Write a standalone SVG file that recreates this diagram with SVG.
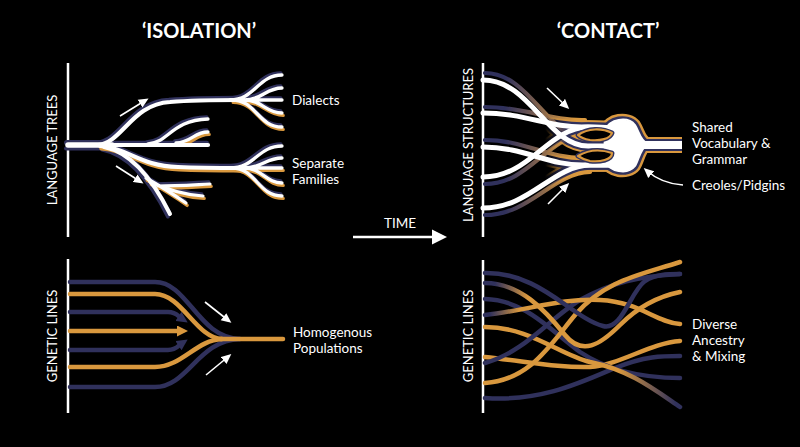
<svg xmlns="http://www.w3.org/2000/svg" width="800" height="447" viewBox="0 0 800 447">
<style>
text{font-family:Lato,"Open Sans","Liberation Sans",sans-serif;fill:#fff}
.title{font-size:20px;font-weight:bold}
.lab{font-size:13.5px}
.axlab{font-size:13px}
.axis{stroke:#fff;stroke-width:2.5;fill:none}
.ptr{stroke:#fff;stroke-width:1.6;fill:none;marker-end:url(#wh)}
.ln{fill:none;stroke-width:4.5;stroke-linecap:round}
.nv{stroke:#30315c}
.gd{stroke:#d9983e}
</style>
<defs>
<marker id="wh" markerUnits="userSpaceOnUse" markerWidth="10" markerHeight="10" refX="7" refY="5" orient="auto" viewBox="0 0 10 10"><path d="M0,0.5 L10,5 L0,9.5 z" fill="#fff"/></marker>
<marker id="anv" markerUnits="userSpaceOnUse" markerWidth="11" markerHeight="11" refX="3" refY="5.5" orient="auto" viewBox="0 0 11 11"><path d="M0,0 L11,5.5 L0,11 z" fill="#30315c"/></marker>
<marker id="agd" markerUnits="userSpaceOnUse" markerWidth="11" markerHeight="11" refX="3" refY="5.5" orient="auto" viewBox="0 0 11 11"><path d="M0,0 L11,5.5 L0,11 z" fill="#d9983e"/></marker>
<linearGradient id="shadeTR" gradientUnits="userSpaceOnUse" x1="505" y1="0" x2="575" y2="0"><stop offset="0" stop-color="#30315c"/><stop offset="1" stop-color="#d9983e"/></linearGradient>
<linearGradient id="n2g1" gradientUnits="userSpaceOnUse" x1="495" y1="0" x2="528" y2="0"><stop offset="0" stop-color="#30315c"/><stop offset="1" stop-color="#d9983e"/></linearGradient>
<linearGradient id="n2g2" gradientUnits="userSpaceOnUse" x1="490" y1="0" x2="520" y2="0"><stop offset="0" stop-color="#30315c"/><stop offset="1" stop-color="#d9983e"/></linearGradient>
<linearGradient id="g2n" gradientUnits="userSpaceOnUse" x1="618" y1="0" x2="676" y2="0"><stop offset="0" stop-color="#d9983e"/><stop offset="1" stop-color="#30315c"/></linearGradient>
<linearGradient id="fadeM" gradientUnits="userSpaceOnUse" x1="545" y1="0" x2="568" y2="0"><stop offset="0" stop-color="#000"/><stop offset="1" stop-color="#fff"/></linearGradient>
<mask id="conv" maskUnits="userSpaceOnUse" x="480" y="50" width="220" height="200"><rect x="480" y="50" width="220" height="200" fill="url(#fadeM)"/></mask>
<g id="treeAll" fill="none" stroke-linecap="round">
<path d="M68,145 H112" stroke-width="5.5"/>
<path d="M98,145 C122,143 132,104 170,102 C195,100 215,100 240,100" stroke-width="4.2"/>
<path d="M230,100 C255,100 258,75 282,75 M244,100 C262,100 266,88 282,88 M240,100 H282 M244,100 C262,100 266,113 282,113 M232,100 C256,100 258,127 282,127" stroke-width="3.3"/>
<path d="M100,145 H208" stroke-width="4.2"/>
<path d="M148,144 C168,143 172,120 208,119 M176,143 C192,142 194,132 208,132" stroke-width="3.3"/>
<path d="M100,146 C128,148 140,166 178,167 C200,168 215,168 240,168" stroke-width="4.2"/>
<path d="M230,168 C255,168 258,146 282,146 M244,168 C262,168 266,158 282,158 M240,168 H282 M244,168 C262,168 266,183 282,183 M232,168 C256,168 258,196 282,196" stroke-width="3.3"/>
<path d="M104,147 C130,152 152,178 170,214" stroke-width="4"/>
<path d="M146,178 C160,186 173,194 186,203 M150,182 C168,190 185,195 203,196 M158,186 C175,186 190,185 210,184" stroke-width="3.2"/>
</g>
<g id="treeGold" fill="none" stroke-linecap="round" stroke-width="3.3">
<path d="M232,100 C256,100 258,127 282,127 M244,100 C262,100 266,113 282,113"/>
<path d="M176,143 C192,142 194,132 208,132"/>
<path d="M100,146 C128,148 140,166 178,167 C200,168 215,168 240,168" stroke-width="4"/>
<path d="M240,168 H282 M244,168 C262,168 266,183 282,183 M232,168 C256,168 258,196 282,196"/>
<path d="M146,178 C160,186 173,194 186,203 M150,182 C168,190 185,195 203,196 M158,186 C175,186 190,185 210,184"/>
</g>
<g id="treeLL" fill="none" stroke-linecap="round" stroke-width="4">
<path d="M68,146 H112"/>
<path d="M104,147 C130,152 152,178 170,214"/>
</g>
<g id="convShapes" fill="none" stroke-linecap="round" stroke-linejoin="round">
<path d="M483,80 C530,80 548,146 588,146 L625,146"/>
<path d="M483,113 C525,113 550,128 585,127 L625,128"/>
<path d="M483,147 C525,147 548,166 585,165 L625,165"/>
<path d="M483,177 C530,177 548,128 588,127 L625,128"/>
<path d="M483,208 C530,208 552,166 590,165 L625,165"/>
</g>
<path id="blob" d="M606,130 C608,119 628,116 635,125 C639,131 640,141 648,144 C640,148 639,160 635,166 C628,175 608,172 606,161 C604,150 604,140 606,130 Z"/>
</defs>

<rect width="800" height="447" fill="#000"/>

<g id="titles">
<text class="title" x="199" y="38" text-anchor="middle">‘ISOLATION’</text>
<text class="title" x="608" y="38" text-anchor="middle">‘CONTACT’</text>
</g>

<g id="language-trees">
<line class="axis" x1="68" y1="63" x2="68" y2="237"/>
<text class="axlab" transform="translate(57,150) rotate(-90)" text-anchor="middle">LANGUAGE TREES</text>
<use href="#treeAll" stroke="#30315c" transform="translate(-1.2,-2.2)"/>
<use href="#treeLL" stroke="#30315c" transform="translate(-2,2.5)"/>
<use href="#treeGold" stroke="#d9983e" transform="translate(1.2,2.4)"/>
<use href="#treeAll" stroke="#fff"/>
<text class="lab" x="292" y="105">Dialects</text>
<text class="lab" x="292" y="168">Separate</text>
<text class="lab" x="292" y="184">Families</text>
</g>

<g id="genetic-isolation">
<line class="axis" x1="68" y1="259" x2="68" y2="413"/>
<text class="axlab" transform="translate(57,336) rotate(-90)" text-anchor="middle">GENETIC LINES</text>
<path class="ln nv" d="M70,282 H155 C188,282 198,338 240,339"/>
<path class="ln nv" d="M70,387 H155 C188,387 198,340 240,339"/>
<path class="ln gd" d="M70,294 H155 C182,294 196,338 222,339"/>
<path class="ln gd" d="M70,367 H155 C182,367 196,340 222,339"/>
<path class="ln gd" d="M220,339 H283" stroke-linecap="butt"/>
<path class="ln nv" d="M70,312 H168 C176,312 178,316 181,318" marker-end="url(#anv)"/>
<path class="ln gd" d="M70,331 H180" marker-end="url(#agd)"/>
<path class="ln nv" d="M70,350 H168 C176,350 178,346 181,344" marker-end="url(#anv)"/>
<text class="lab" x="293" y="337">Homogenous</text>
<text class="lab" x="293" y="353">Populations</text>
</g>

<g id="time">
<text class="axlab" x="400" y="228" text-anchor="middle" style="font-size:13.5px">TIME</text>
<line x1="353" y1="237" x2="436" y2="237" stroke="#fff" stroke-width="2.5"/>
<path d="M432,229.5 L447,237 L432,244.5 z" fill="#fff"/>
</g>

<g id="language-structures">
<line class="axis" x1="483" y1="63" x2="483" y2="237"/>
<text class="axlab" transform="translate(473,145) rotate(-90)" text-anchor="middle">LANGUAGE STRUCTURES</text>
<g class="ln" stroke="url(#shadeTR)" style="stroke-width:4.2">
<path d="M485,73 C530,73 548,139 588,139"/>
<path d="M485,107 C525,107 550,121 585,120"/>
<path d="M485,140 C525,140 548,159 585,158"/>
<path d="M485,184 C530,184 548,135 588,134"/>
<path d="M485,215 C530,215 552,173 590,172"/>
</g>
<g mask="url(#conv)">
<use href="#convShapes" stroke="#d9983e" stroke-width="13.5"/>
<use href="#blob" fill="#d9983e" stroke="#d9983e" stroke-width="12" stroke-linejoin="round"/>
<path d="M640,145 H682" stroke="#d9983e" stroke-width="16"/>
<use href="#convShapes" stroke="#30315c" stroke-width="9.5"/>
<use href="#blob" fill="#30315c" stroke="#30315c" stroke-width="7" stroke-linejoin="round"/>
<path d="M640,145 H682" stroke="#30315c" stroke-width="12"/>
</g>
<use href="#convShapes" stroke="#fff" stroke-width="5"/>
<use href="#blob" fill="#fff" stroke="#fff" stroke-width="2" stroke-linejoin="round"/>
<path d="M640,145 H682" stroke="#fff" stroke-width="8"/>
<path d="M578,135 C588,128 602,128 612,133 C610,139 600,141 590,140 C584,139 581,138 578,135 Z" fill="#000" stroke="#30315c" stroke-width="5" stroke-linejoin="round"/>
<path d="M578,135 C588,128 602,128 612,133 C610,139 600,141 590,140 C584,139 581,138 578,135 Z" fill="#000" stroke="#d9983e" stroke-width="2.2" stroke-linejoin="round"/>
<path d="M578,156 C588,150 600,149 612,153 C612,160 600,162 590,161 C584,160 581,158 578,156 Z" fill="#000" stroke="#30315c" stroke-width="5" stroke-linejoin="round"/>
<path d="M578,156 C588,150 600,149 612,153 C612,160 600,162 590,161 C584,160 581,158 578,156 Z" fill="#000" stroke="#d9983e" stroke-width="2.2" stroke-linejoin="round"/>
<text class="lab" x="692" y="132">Shared</text>
<text class="lab" x="692" y="148">Vocabulary &amp;</text>
<text class="lab" x="692" y="164">Grammar</text>
<text class="lab" x="692" y="190">Creoles/Pidgins</text>
</g>

<g id="genetic-contact">
<line class="axis" x1="483" y1="260" x2="483" y2="413"/>
<text class="axlab" transform="translate(473,336) rotate(-90)" text-anchor="middle">GENETIC LINES</text>
<path class="ln nv" d="M485,398 C540,402 580,383 615,368 C645,356 662,356 680,356"/>
<path class="ln gd" d="M485,357 C530,362 560,368 590,367 C620,365 650,343 680,341"/>
<path class="ln nv" d="M485,299 C525,300 550,330 580,352 C610,372 645,378 680,378"/>
<path class="ln" stroke="url(#g2n)" d="M485,327 C530,327 560,355 590,362 C630,370 655,390 680,407"/>
<path class="ln nv" d="M485,363 C525,352 550,318 580,300 C610,283 640,276 680,274"/>
<path class="ln" stroke="url(#n2g2)" d="M485,315 C530,310 560,298 600,300 C640,302 655,322 680,324"/>
<path class="ln gd" d="M485,383 C530,380 550,345 575,315 C605,280 640,275 680,262"/>
<path class="ln nv" d="M485,273 C540,272 572,318 603,326 C622,331 630,292 645,281 C656,274 668,274 680,274"/>
<path class="ln" stroke="url(#n2g1)" d="M485,283 C520,283 545,310 565,335 C582,356 600,345 620,325 C640,305 660,296 680,292"/>
<text class="lab" x="692" y="329">Diverse</text>
<text class="lab" x="692" y="345">Ancestry</text>
<text class="lab" x="692" y="361">&amp; Mixing</text>
</g>

<g id="arrows">
<path class="ptr" d="M120,116 L146,100"/>
<path class="ptr" d="M116,166 L141,182"/>
<path class="ptr" d="M205,302 L229,321"/>
<path class="ptr" d="M206,375 L229,356"/>
<path class="ptr" d="M547,88 L567,107"/>
<path class="ptr" d="M548,204 L567,185"/>
<path class="ptr" d="M683,185 C666,184 655,178 646,170"/>
</g>
</svg>
